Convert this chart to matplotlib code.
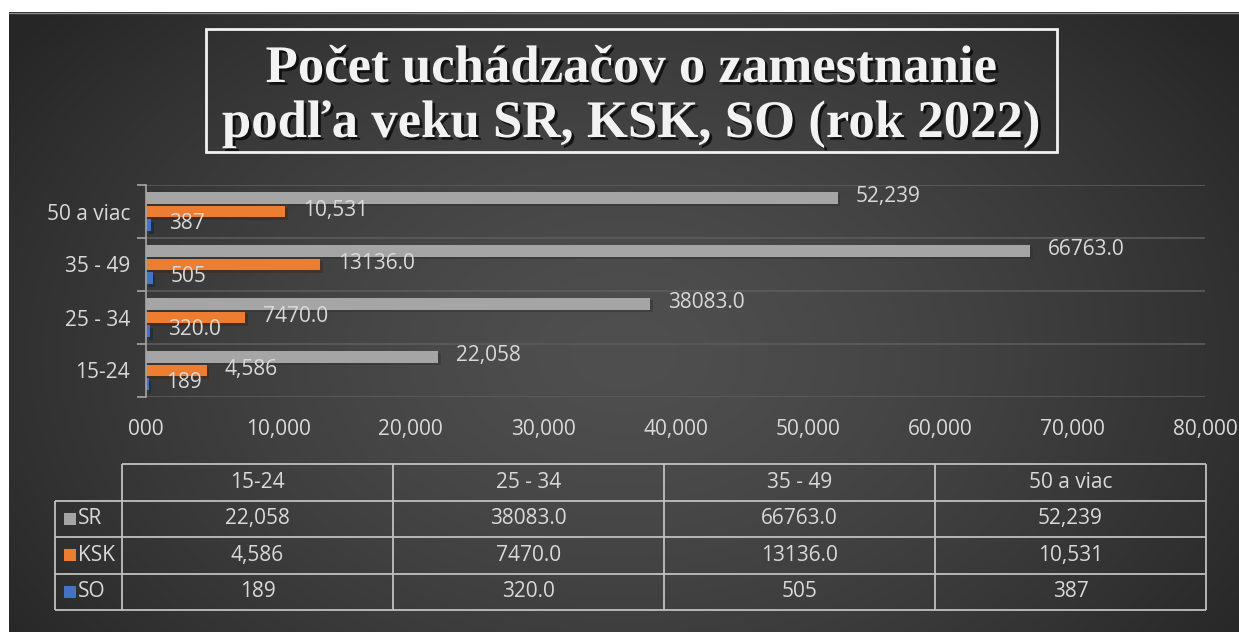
import numpy as np
import matplotlib
matplotlib.use("Agg")
import matplotlib.pyplot as plt
import matplotlib.patheffects as pe
from matplotlib.patches import Rectangle
from matplotlib.ticker import FixedLocator, FixedFormatter

# ---------------- data ----------------
categories = ["15-24", "25 - 34", "35 - 49", "50 a viac"]
series_names = ["SR", "KSK", "SO"]
sr_values = [22058, 38083, 66763, 52239]
ksk_values = [4586, 7470, 13136, 10531]
so_values = [189, 320, 505, 387]
sr_labels = ["22,058", "38083.0", "66763.0", "52,239"]
ksk_labels = ["4,586", "7470.0", "13136.0", "10,531"]
so_labels = ["189", "320.0", "505", "387"]
x_ticks = [0, 10000, 20000, 30000, 40000, 50000, 60000, 70000, 80000]
x_tick_labels = ["000", "10,000", "20,000", "30,000", "40,000",
                 "50,000", "60,000", "70,000", "80,000"]
title_lines = ["Počet uchádzačov o zamestnanie",
               "podľa veku SR, KSK, SO (rok 2022)"]

# ---------------- style ----------------
W, H = 1239, 632
SANS = ["Open Sans", "DejaVu Sans"]
TXT = "#d9d9d9"
colors = ["#a5a5a5", "#ed7d31", "#4472c4"]
FS = 15

fig = plt.figure(figsize=(W / 100, H / 100), dpi=100, facecolor="white")

# background gradient panel
bg = fig.add_axes([9 / W, 0, 1 - 9 / W, 1 - 12 / H])
bg.axis("off")
ny, nx = 300, 600
yy, xx = np.mgrid[0:1:ny * 1j, 0:1:nx * 1j]
r = np.sqrt(((xx - 0.5) / 0.62) ** 2 + ((yy - 0.55) / 0.85) ** 2)
v = (0x4f - (0x4f - 0x26) * np.clip(r, 0, 1) ** 1.4) / 255.0
bg.imshow(np.dstack([v, v, v]), extent=[0, 1, 0, 1], aspect="auto",
          interpolation="bilinear")
bg.set_xlim(0, 1)
bg.set_ylim(0, 1)

# ---------------- main chart ----------------
ax_l, ax_r, ax_t, ax_b = 146, 1205, 185, 397
ax = fig.add_axes([ax_l / W, 1 - ax_b / H, (ax_r - ax_l) / W, (ax_b - ax_t) / H])
ax.patch.set_alpha(0)

y = np.arange(len(categories))
bar_h = 0.225
offsets = [0.262, 0.0, -0.255]
all_vals = [sr_values, ksk_values, so_values]
all_labs = [sr_labels, ksk_labels, so_labels]
for vals, labs, col, off in zip(all_vals, all_labs, colors, offsets):
    bars = ax.barh(y + off, vals, height=bar_h, color=col, zorder=3)
    for b in bars:
        b.set_path_effects([pe.SimplePatchShadow(offset=(2, -2), alpha=0.5),
                            pe.Normal()])
    for yi, val, lab in zip(y + off, vals, labs):
        ax.annotate(lab, (val, yi), xytext=(13, 1), textcoords="offset points",
                    ha="left", va="center", fontsize=FS, family=SANS,
                    color=TXT, zorder=4)

ax.set_xlim(0, 80000)
ax.set_ylim(-0.5, len(categories) - 0.5)

ax.xaxis.set_major_locator(FixedLocator(x_ticks))
ax.xaxis.set_major_formatter(FixedFormatter(x_tick_labels))
ax.tick_params(axis="x", length=0, pad=16, labelsize=FS, labelcolor=TXT)
for lab in ax.get_xticklabels():
    lab.set_family(SANS)

ax.yaxis.set_major_locator(FixedLocator(np.arange(len(categories) + 1) - 0.5))
ax.yaxis.set_major_formatter(FixedFormatter([""] * (len(categories) + 1)))
ax.yaxis.set_minor_locator(FixedLocator(y))
ax.yaxis.set_minor_formatter(FixedFormatter(categories))
ax.tick_params(axis="y", which="major", length=6.5, width=1.2, color="#a6a6a6",
               direction="out")
ax.tick_params(axis="y", which="minor", length=0, pad=11.5, labelsize=FS,
               labelcolor=TXT)
for lab in ax.get_yticklabels(minor=True):
    lab.set_family(SANS)

ax.yaxis.grid(True, which="major", color="#5c5c5c", lw=1.2, zorder=0)
ax.xaxis.grid(False)
for s in ["top", "right", "bottom"]:
    ax.spines[s].set_visible(False)
ax.spines["left"].set_color("#a6a6a6")
ax.spines["left"].set_linewidth(1.2)
ax.spines["left"].set_zorder(5)

# ---------------- overlay (title + data table) ----------------
ov = fig.add_axes([0, 0, 1, 1])
ov.patch.set_alpha(0)
ov.set_xlim(0, W)
ov.set_ylim(H, 0)
ov.axis("off")

# thin top edge of the dark panel
ov.plot([9, W], [12.5, 12.5], color="#8a8a8a", lw=1)

# title
ov.add_patch(Rectangle((206, 29), 1057 - 206, 152 - 29, fill=False,
                       ec="#f2f2f2", lw=2))
shadow = [pe.SimplePatchShadow(offset=(2, -2), shadow_rgbFace="black", alpha=0.7),
          pe.Normal()]
for txt, base in zip(title_lines, [82, 137]):
    ov.text(631, base, txt, ha="center", va="baseline", fontsize=38,
            family=["Liberation Serif", "DejaVu Serif"], weight="bold",
            color="#f2f2f2", path_effects=shadow)

# data table
col_x = np.linspace(122, 1206, len(categories) + 1)
row_y = np.linspace(464, 610, len(series_names) + 2)
lab_x0 = 55
lk = dict(color="#c0c0c0", lw=1.3, solid_capstyle="butt")
ov.plot([col_x[0], col_x[-1]], [row_y[0]] * 2, **lk)
for ry in row_y[1:]:
    ov.plot([lab_x0, col_x[-1]], [ry, ry], **lk)
ov.plot([lab_x0, lab_x0], [row_y[1], row_y[-1]], **lk)
for cx in col_x:
    ov.plot([cx, cx], [row_y[0], row_y[-1]], **lk)

col_c = (col_x[:-1] + col_x[1:]) / 2
row_c = (row_y[:-1] + row_y[1:]) / 2
for cx, cat in zip(col_c, categories):
    ov.text(cx, row_c[0], cat, ha="center", va="center", fontsize=FS,
            family=SANS, color=TXT)
for i, (name, labs, col) in enumerate(zip(series_names, all_labs, colors)):
    rc = row_c[i + 1]
    ov.add_patch(Rectangle((64, rc - 6), 12, 12, color=col, lw=0))
    ov.text(78, rc, name, ha="left", va="center", fontsize=FS, family=SANS,
            color=TXT)
    for cx, lab in zip(col_c, labs):
        ov.text(cx, rc, lab, ha="center", va="center", fontsize=FS,
                family=SANS, color=TXT)

fig.savefig("out.png", dpi=100, facecolor="white")
